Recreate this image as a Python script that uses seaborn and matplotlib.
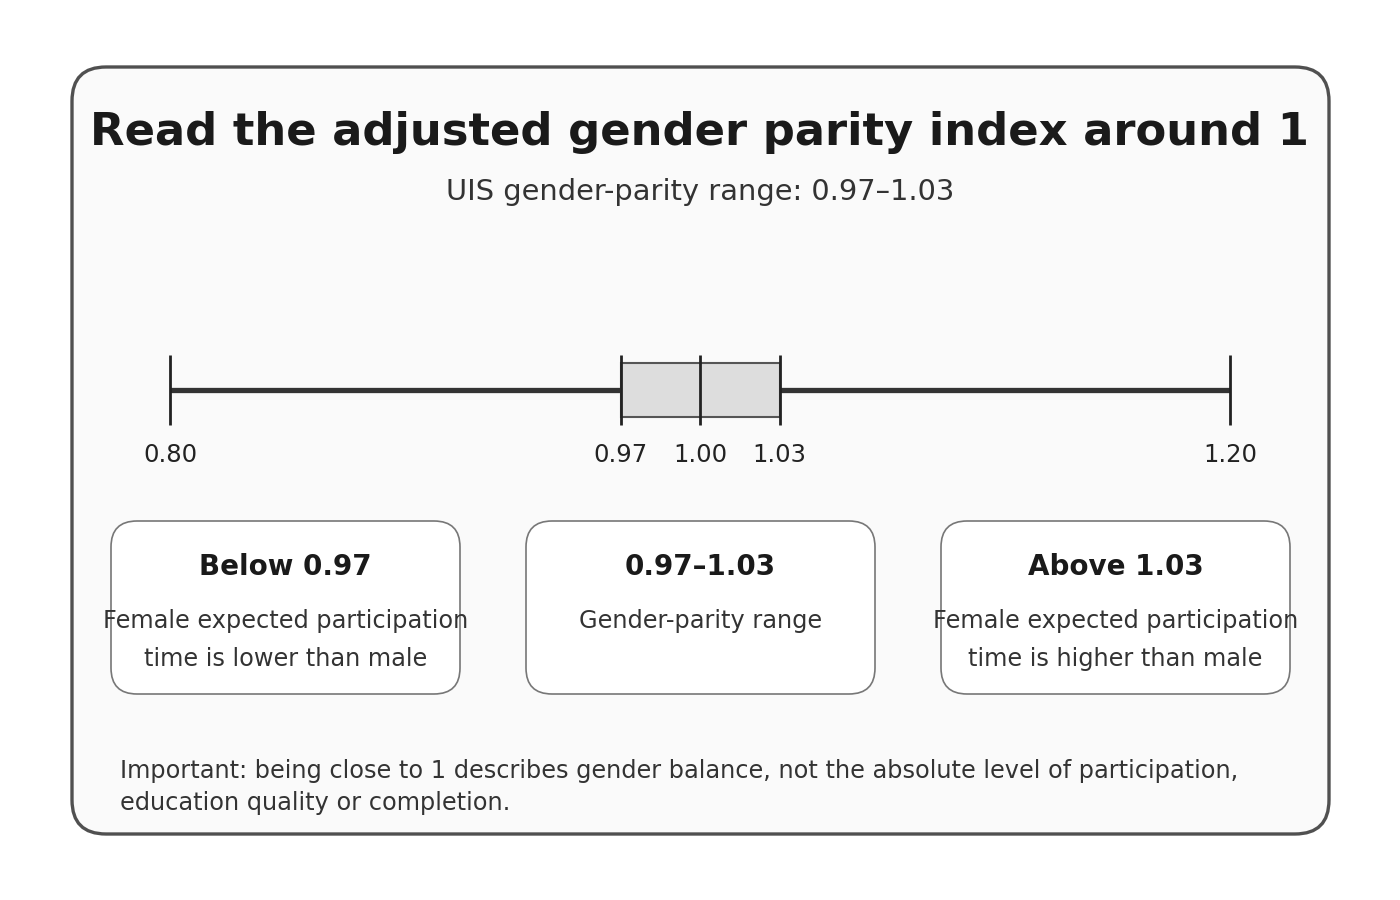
import matplotlib
matplotlib.use("Agg")
import matplotlib.pyplot as plt
import seaborn as sns
import pandas as pd
from matplotlib.patches import FancyBboxPatch, Rectangle

# ---- data ----
scale_min, scale_max = 0.80, 1.20
parity_low, parity_high = 0.97, 1.03
parity_mid = 1.00
tick_values = [0.80, 0.97, 1.00, 1.03, 1.20]
tick_labels = ["0.80", "0.97", "1.00", "1.03", "1.20"]

card_titles = ["Below 0.97", "0.97\u20131.03", "Above 1.03"]
card_texts = [
    "Female expected participation\ntime is lower than male",
    "Gender-parity range",
    "Female expected participation\ntime is higher than male",
]

title = "Read the adjusted gender parity index around 1"
subtitle = "UIS gender-parity range: 0.97\u20131.03"
footnote = ("Important: being close to 1 describes gender balance, not the absolute level of participation,\n"
            "education quality or completion.")

sns.set_theme(style="white")
plt.rcParams["font.family"] = ["DejaVu Sans"]

W, H = 1400, 900
fig = plt.figure(figsize=(14, 9), dpi=100)
fig.patch.set_facecolor("white")

# background canvas in pixel units
bg = fig.add_axes([0, 0, 1, 1])
bg.set_xlim(0, W)
bg.set_ylim(H, 0)
bg.axis("off")

bg.add_patch(FancyBboxPatch((72, 67), 1257, 767,
                            boxstyle="round,pad=0,rounding_size=34",
                            fc="#fafafa", ec="#505050", lw=2.4))

bg.text(700, 133, title, ha="center", va="center", fontsize=32.3,
        fontweight="bold", color="#1a1a1a")
bg.text(700, 192, subtitle, ha="center", va="center", fontsize=20.8,
        color="#333333")

card_x = [111, 526, 941]
for x0, head, body in zip(card_x, card_titles, card_texts):
    bg.add_patch(FancyBboxPatch((x0, 521), 349, 173,
                                boxstyle="round,pad=0,rounding_size=26",
                                fc="white", ec="#777777", lw=1.2))
    bg.text(x0 + 174.5, 567, head, ha="center", va="center", fontsize=20,
            fontweight="bold", color="#1a1a1a")
    bg.text(x0 + 174.5, 609, body, ha="center", va="top", fontsize=17.3,
            color="#333333", linespacing=1.76)

bg.text(120, 759, footnote, ha="left", va="top", fontsize=17.3,
        color="#333333", linespacing=1.44)

# scale axis in GPI units
left, right = 170, 1230
top, bottom = 340, 440
ax = fig.add_axes([left / W, 1 - bottom / H, (right - left) / W, (bottom - top) / H])
ax.set_xlim(scale_min, scale_max)
ax.set_ylim(-50, 50)
ax.axis("off")
ax.patch.set_alpha(0)

line_df = pd.DataFrame({"gpi": [scale_min, scale_max], "y": [0, 0]})
sns.lineplot(data=line_df, x="gpi", y="y", ax=ax, color="#333333",
             linewidth=3.8, solid_capstyle="butt", zorder=2)

ax.add_patch(Rectangle((parity_low, -27), parity_high - parity_low, 54,
                       fc="#dddddd", ec="#555555", lw=1.5, zorder=3))

ax.vlines(tick_values, -35, 35, color="#222222", lw=2.0, zorder=4, clip_on=False)

for v, lab in zip(tick_values, tick_labels):
    ax.text(v, -65, lab, ha="center", va="center", fontsize=17.5,
            color="#222222", clip_on=False)

fig.savefig("out.png", dpi=100, facecolor="white")
